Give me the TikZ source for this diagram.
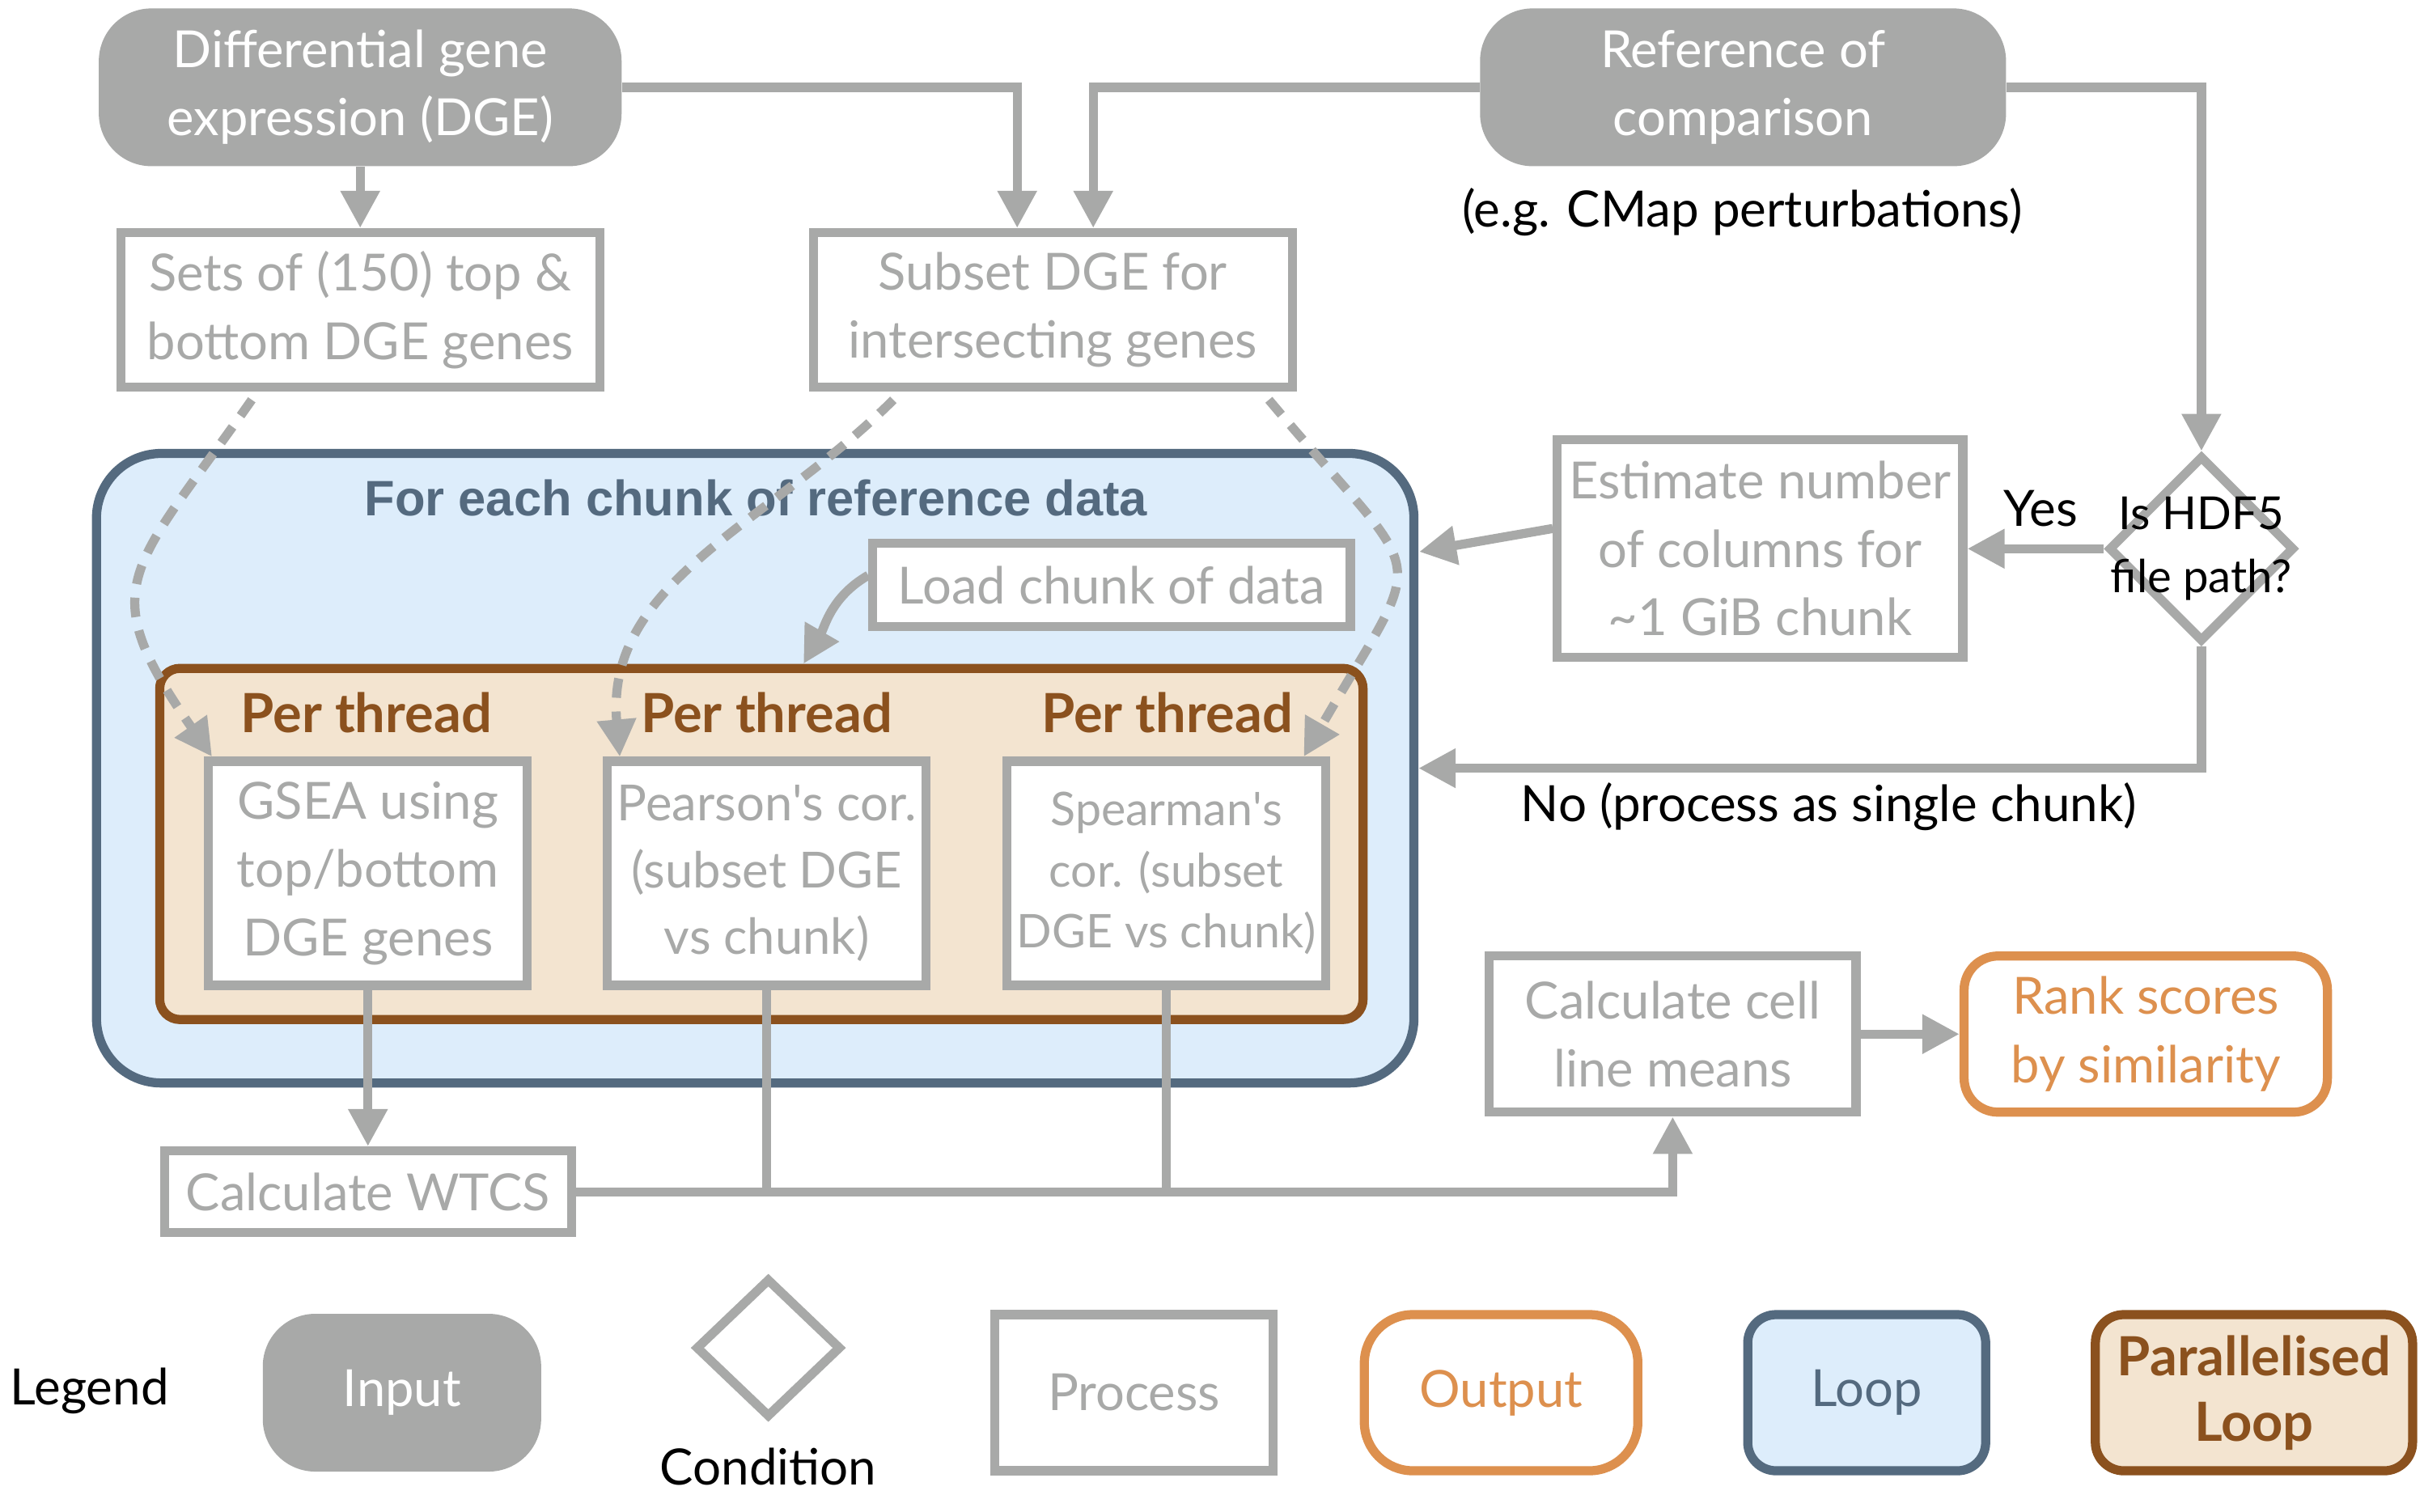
\documentclass[tikz,border=0pt]{standalone}
\usepackage{fontspec}
\setmainfont{Lato}
\newfontfamily\headfont{Liberation Sans}
\usetikzlibrary{arrows.meta, shapes.geometric, positioning}
\definecolor{greyflow}{RGB}{168,169,168}
\definecolor{slateloop}{RGB}{84,106,127}
\definecolor{blueloop}{RGB}{221,237,251}
\definecolor{brownpar}{RGB}{139,81,30}
\definecolor{tanpar}{RGB}{243,228,208}
\definecolor{orangeout}{RGB}{221,144,78}

\tikzset{
  txt/.style={font=\fontsize{18}{24}\selectfont, align=center, inner sep=0pt},
  inputbox/.style={txt, fill=greyflow, text=white, rounded corners=0.65cm, minimum height=1.95cm},
  procbox/.style={txt, draw=greyflow, line width=3.2pt, fill=white, text=greyflow},
  outbox/.style={txt, draw=orangeout, line width=3.2pt, fill=white, text=orangeout, rounded corners=0.42cm},
  loopbox/.style={draw=slateloop, line width=3.2pt, fill=blueloop, rounded corners=0.8cm},
  parbox/.style={draw=brownpar, line width=3.2pt, fill=tanpar, rounded corners=0.25cm},
  condshape/.style={diamond, draw=greyflow, line width=3.2pt, fill=white, inner sep=0pt, aspect=1},
  threadlbl/.style={font=\bfseries\fontsize{19}{20}\selectfont, text=brownpar, inner sep=0pt},
  link/.style={draw=greyflow, line width=3.2pt},
  conn/.style={link, -{Triangle[length=4.6mm,width=4.6mm]}},
  dashconn/.style={conn, dash pattern=on 0.24cm off 0.17cm}
}

\begin{document}
\begin{tikzpicture}[x=0.019107cm, y=0.019107cm]
\useasboundingbox (0,0) rectangle (1568,978);

\node[inputbox, minimum width=6.46cm] (dge) at (233,921.5) {Differential gene\\expression (DGE)};
\node[inputbox, minimum width=6.50cm] (ref) at (1127.5,921.5) {Reference of\\comparison};
\node[txt, text=black, font=\fontsize{17.6}{24}\selectfont] (eglbl) at (1127,841) {(e.g. CMap perturbations)};

\node[procbox, minimum width=5.92cm, minimum height=1.91cm] (sets) at (233,777.5) {Sets of (150) top \&\\bottom DGE genes};
\node[procbox, minimum width=5.92cm, minimum height=1.91cm] (subset) at (681,777.5) {Subset DGE for\\intersecting genes};
\node[procbox, minimum width=5.01cm, minimum height=2.69cm] (est) at (1138.5,623) {Estimate number\\of columns for\\\textasciitilde1 GiB chunk};
\node[condshape, minimum width=2.3cm, minimum height=2.3cm] (hdf) at (1424,623) {};
\node[txt, text=black, font=\fontsize{16}{22}\selectfont] (hdflbl) at (1424,623) {Is HDF5\\file path?};
\node[txt, text=black, font=\fontsize{17.6}{24}\selectfont] (yeslbl) at (1320,649) {Yes};
\node[txt, text=black, font=\fontsize{17.6}{24}\selectfont] (nolbl) at (1183,456) {No (process as single chunk)};

\node[loopbox, minimum width=16.28cm, minimum height=7.78cm] (loop) at (488.5,481) {};
\node[font=\headfont\bfseries\fontsize{17.5}{20}\selectfont, text=slateloop, inner sep=0pt] (looptitle) at (489,656) {For each chunk of reference data};
\node[procbox, minimum width=5.90cm, minimum height=1.03cm] (load) at (719,599.5) {Load chunk of data};
\node[parbox, minimum width=14.87cm, minimum height=4.34cm] (par) at (492.5,432) {};
\node[threadlbl] (thr1) at (237,517) {Per thread};
\node[threadlbl] (thr2) at (496,517) {Per thread};
\node[threadlbl] (thr3) at (755,517) {Per thread};
\node[procbox, minimum width=3.94cm, minimum height=2.77cm] (gsea) at (238,413) {GSEA using\\top/bottom\\DGE genes};
\node[procbox, minimum width=3.94cm, minimum height=2.77cm, font=\fontsize{17.5}{23.5}\selectfont] (pearson) at (496,413) {Pearson\textquotesingle s cor.\\(subset DGE\\vs chunk)};
\node[procbox, minimum width=3.94cm, minimum height=2.77cm, font=\fontsize{16.3}{21.5}\selectfont] (spearman) at (754.5,413) {Spearman\textquotesingle s\\cor. (subset\\DGE vs chunk)};

\node[procbox, minimum width=5.03cm, minimum height=1.01cm] (wtcs) at (238,207) {Calculate WTCS};
\node[procbox, minimum width=4.53cm, minimum height=1.93cm] (cell) at (1082,309) {Calculate cell\\line means};
\node[outbox, minimum width=4.49cm, minimum height=1.93cm] (rank) at (1388,309) {Rank scores\\by similarity};

\coordinate (loopin) at (918,621);

\draw[conn] (dge.south) -- (sets.north);
\draw[conn] (dge.east) -| ([xshift=-0.44cm]subset.north);
\draw[conn] (ref.west) -| ([xshift=0.5cm]subset.north);
\draw[conn] (ref.east) -| (hdf.north);
\draw[conn] (hdf.west) -- (est.east);
\draw[conn] ([yshift=0.25cm]est.west) -- (loopin);
\draw[conn] (hdf.south) |- (loop.east);
\draw[conn] ([yshift=0.12cm]load.west) to[out=210, in=60] ([xshift=0.52cm]par.north);
\draw[dashconn] ([xshift=-1.34cm,yshift=-0.1cm]sets.south) to[out=235, in=125, looseness=1.5] ([xshift=0.1cm]gsea.north west);
\draw[dashconn] ([xshift=-1.97cm,yshift=-0.1cm]subset.south) to[out=225, in=95] ([xshift=0.21cm]pearson.north west);
\draw[dashconn] ([xshift=2.67cm,yshift=-0.1cm]subset.south) to[out=-50, in=60, looseness=1.8] ([xshift=-0.33cm]spearman.north east);
\draw[conn] (gsea.south) -- (wtcs.north);
\draw[link] (pearson.south) -- (pearson.south |- wtcs.east);
\draw[link] (spearman.south) -- (spearman.south |- wtcs.east);
\draw[conn] (wtcs.east) -| (cell.south);
\draw[conn] (cell.east) -- (rank.west);

\node[txt, text=black, font=\fontsize{17.6}{24}\selectfont] (legendlbl) at (58,78) {Legend};
\node[inputbox, minimum width=3.44cm] (leginput) at (260,77) {Input};
\node[condshape, minimum width=1.8cm, minimum height=1.72cm] (legcond) at (497,106) {};
\node[txt, text=black, font=\fontsize{17.6}{24}\selectfont] (condlbl) at (497,29) {Condition};
\node[procbox, minimum width=3.44cm, minimum height=1.93cm] (legproc) at (733.5,77) {Process};
\node[outbox, minimum width=3.38cm, minimum height=1.93cm, rounded corners=0.6cm] (legout) at (971,77) {Output};
\node[loopbox, txt, text=slateloop, minimum width=2.94cm, minimum height=1.93cm, rounded corners=0.35cm] (legloop) at (1207.5,77) {Loop};
\node[parbox, txt, font=\bfseries\fontsize{19}{23}\selectfont, text=brownpar, minimum width=3.92cm, minimum height=1.93cm, rounded corners=0.35cm] (legpar) at (1458,77) {Parallelised\\Loop};
\end{tikzpicture}
\end{document}
